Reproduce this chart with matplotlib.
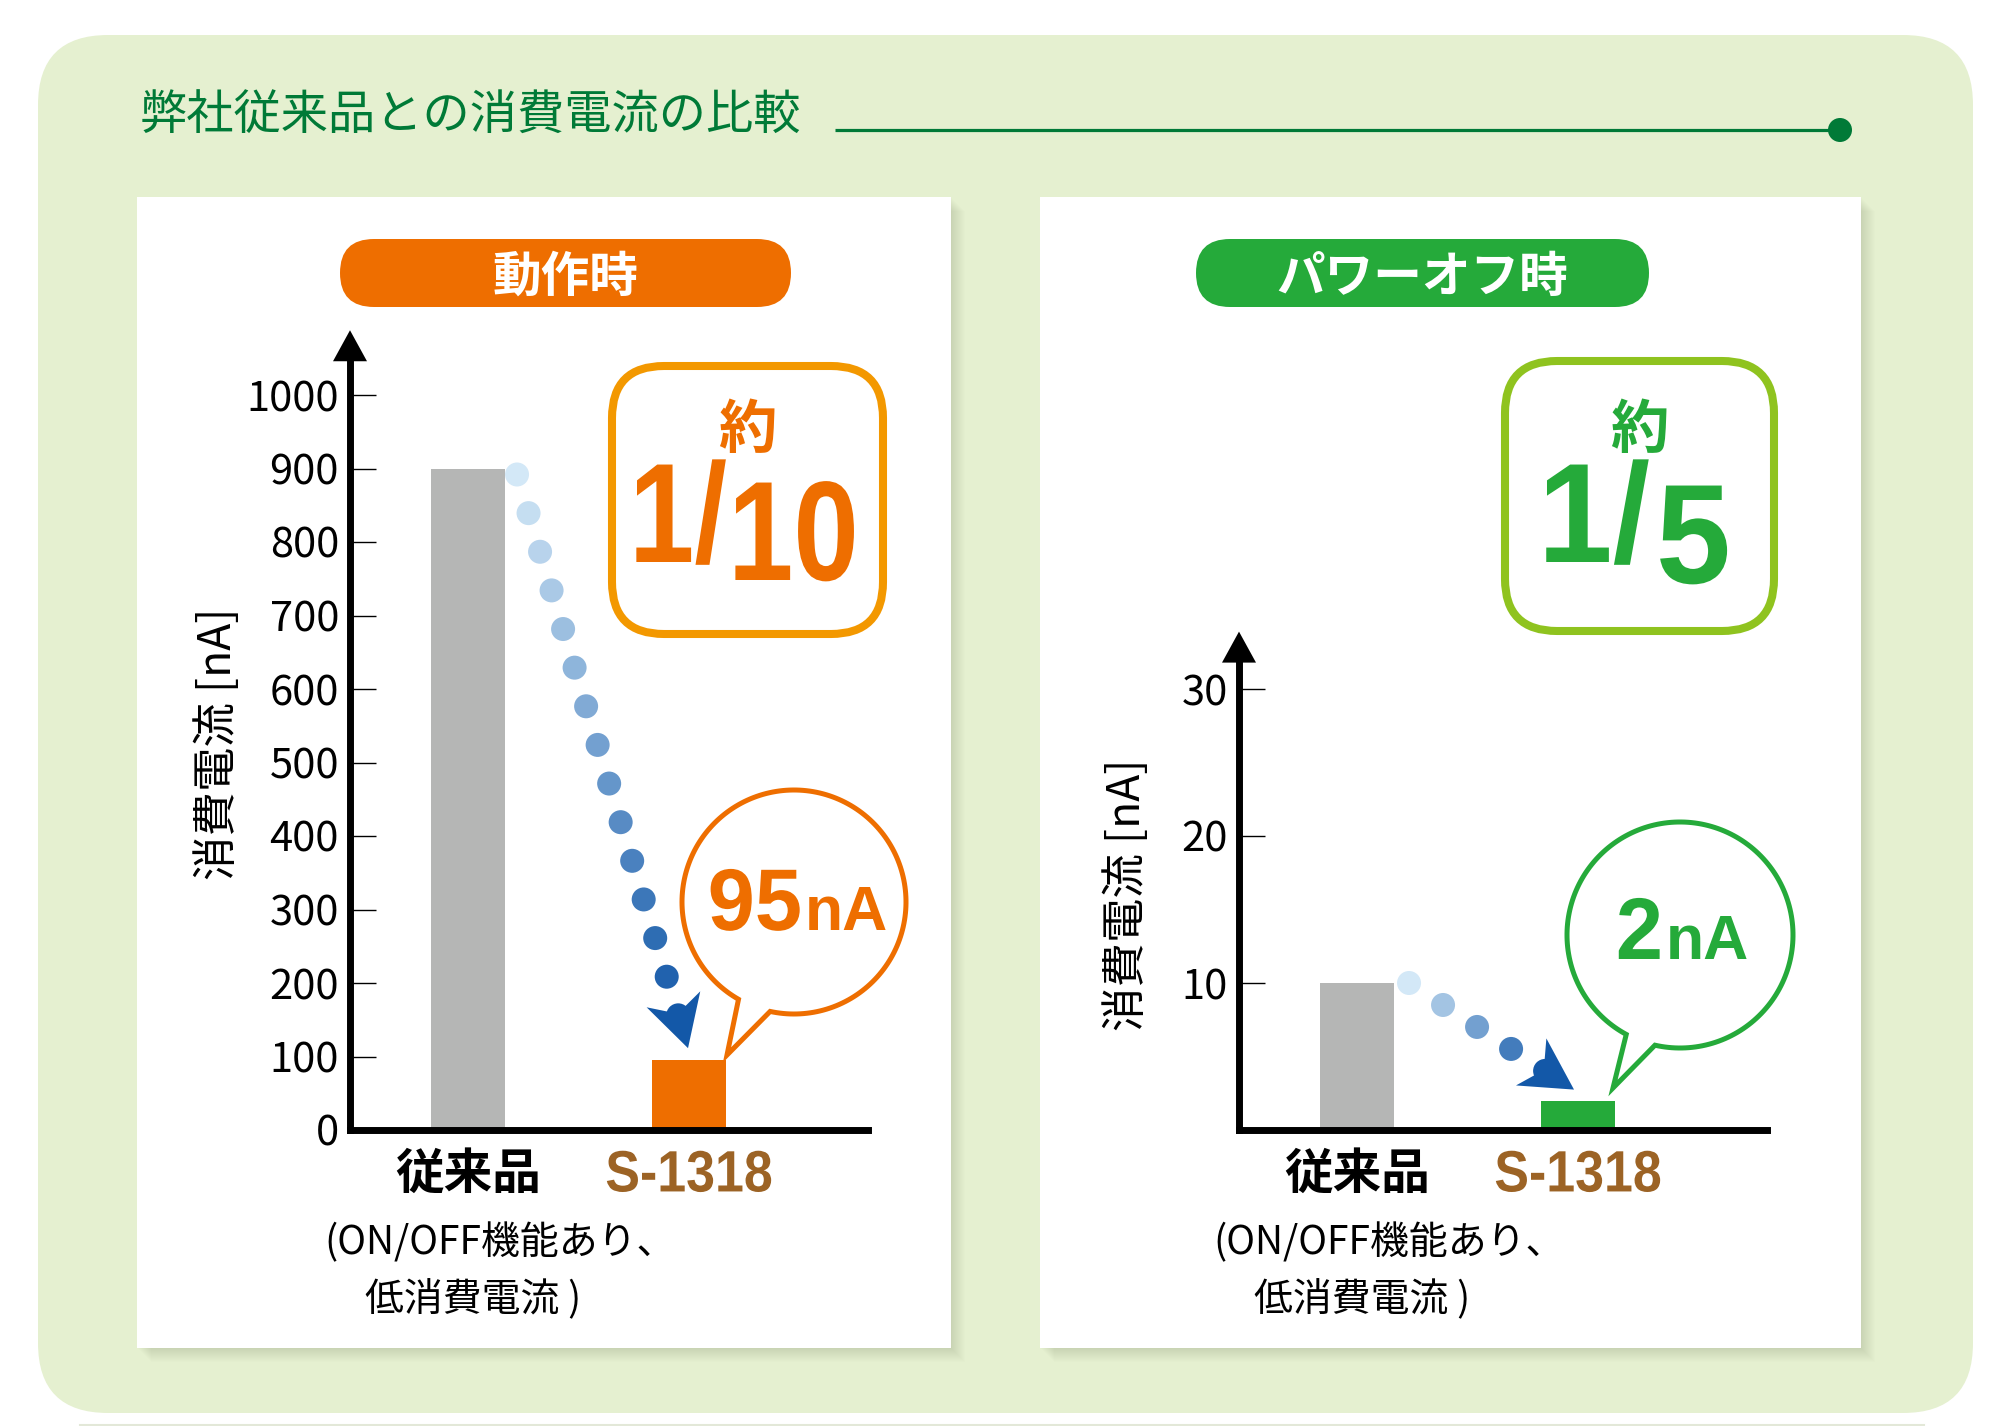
import numpy as np
import matplotlib.pyplot as plt
from matplotlib.patches import FancyBboxPatch, Rectangle, Circle, Polygon
from matplotlib.patheffects import AbstractPathEffect
from matplotlib.transforms import IdentityTransform, Affine2D
from matplotlib.colors import to_rgb

plt.rcParams['font.family'] = ['Noto Sans CJK JP', 'DejaVu Sans']
LATIN = ['Liberation Sans', 'DejaVu Sans']

W, H = 2000, 1426

# ---- data ----
title = '弊社従来品との消費電流の比較'
categories = ['従来品', 'S-1318']
note_lines = ['(ON/OFF機能あり、', '低消費電流 )']
ylabel = '消費電流 [nA]'

active_title = '動作時'
active_vals = [900, 95]          # nA
active_ticks = [0, 100, 200, 300, 400, 500, 600, 700, 800, 900, 1000]
active_ratio = ('1/', '10')
active_value_txt = ('95', 'nA')

off_title = 'パワーオフ時'
off_vals = [10, 2]               # nA
off_ticks = [10, 20, 30]
off_ratio = ('1/', '5')
off_value_txt = ('2', 'nA')

# ---- colours ----
bg_green = '#E5F0D0'
dk_green = '#007A37'
orange = '#EE6E00'
orange_lt = '#F39800'
green = '#25AA3A'
green_lt = '#8FC31F'
gray = '#B5B6B5'
brown = '#9C6325'
dot_light = '#D3E8F7'
dot_dark = '#1358A8'


class Squeeze(AbstractPathEffect):
    """draw text narrower (condensed look) around display x0"""
    def __init__(self, sx, x0):
        super().__init__()
        self._sx = sx
        self._x0 = x0

    def draw_path(self, renderer, gc, tpath, affine, rgbFace=None):
        t = affine + Affine2D().translate(-self._x0, 0).scale(self._sx, 1).translate(self._x0, 0)
        renderer.draw_path(gc, tpath, t, rgbFace)


fig = plt.figure(figsize=(W / 100, H / 100), dpi=100)
fig.patch.set_facecolor('white')

# background layer in pixel coordinates (y down)
bg = fig.add_axes([0, 0, 1, 1], zorder=0)
bg.set_xlim(0, W)
bg.set_ylim(H, 0)
bg.axis('off')


def squeezed(x, y, s, sx, **kw):
    x0 = bg.transData.transform((x, 0))[0]
    bg.text(x, y, s, path_effects=[Squeeze(sx, x0)], **kw)


bg.add_patch(FancyBboxPatch((38, 35), 1935, 1378,
                            boxstyle='round,pad=0,rounding_size=70',
                            fc=bg_green, ec='none'))
bg.plot([80, 1924], [1425, 1425], color='#E3E8D8', lw=1.5)
bg.text(140, 117, title, fontsize=34, color=dk_green, ha='left', va='center')
bg.plot([835, 1840], [130, 130], color=dk_green, lw=2.3, solid_capstyle='butt')
bg.add_patch(Circle((1840, 130), 12, fc=dk_green, ec='none'))

# white panels with soft shadow
for x0, x1 in [(137, 951), (1040, 1861)]:
    for k in range(1, 15):
        bg.add_patch(Rectangle((x0 + k, 197 + k), x1 - x0, 1151,
                               fc='#8A9A78', ec='none', alpha=0.02))
    bg.add_patch(Rectangle((x0, 197), x1 - x0, 1151, fc='white', ec='none'))


def pill(x0, x1, text, color):
    bg.add_patch(FancyBboxPatch((x0, 239), x1 - x0, 68,
                                boxstyle='round,pad=0,rounding_size=34',
                                fc=color, ec='none'))
    bg.text((x0 + x1) / 2, 277, text, fontsize=35, weight='bold',
            color='white', ha='center', va='center')


pill(340, 791, active_title, orange)
pill(1196, 1649, off_title, green)


def ratio_box(x0, y0, x1, y1, edge, txt_color, ratio, cx, slash_x, gap,
              base1, base2, sx):
    bg.add_patch(FancyBboxPatch((x0 + 4, y0 + 4), x1 - x0 - 8, y1 - y0 - 8,
                                boxstyle='round,pad=0,rounding_size=52',
                                fc='white', ec=edge, lw=5.8))
    bg.text(cx, 431, '約', fontsize=42, weight='bold', color=txt_color,
            ha='center', va='center')
    squeezed(slash_x, base1, ratio[0], sx, fontsize=102, weight='bold',
             color=txt_color, ha='right', va='baseline', family=LATIN)
    squeezed(slash_x + gap, base2, ratio[1], sx, fontsize=102, weight='bold',
             color=txt_color, ha='left', va='baseline', family=LATIN)


ratio_box(608, 362, 887, 638, orange_lt, orange, active_ratio, 747,
          727, 1, 562, 580, 0.83)
ratio_box(1501, 357, 1778, 635, green_lt, green, off_ratio, 1639,
          1650, 6, 562, 583, 0.95)


def bubble(cx, cy, r, a1, a2, tip, color, txt, split_x, base):
    ang = np.radians(np.linspace(a2, a1 - 360, 200))
    pts = np.column_stack([cx + r * np.cos(ang), cy + r * np.sin(ang)])
    pts = np.vstack([pts, tip])
    bg.add_patch(Polygon(pts, closed=True, fc='white', ec=color, lw=3.6,
                         joinstyle='miter'))
    squeezed(split_x, base, txt[0], 0.97, fontsize=63, weight='bold',
             color=color, ha='right', va='baseline', family=LATIN)
    bg.text(split_x + 3, base, txt[1], fontsize=45, weight='bold', color=color,
            ha='left', va='baseline', family=LATIN)


bubble(794, 902, 112, 119.7, 102.3, (727, 1055), orange, active_value_txt, 802, 930)
bubble(1680, 935, 113, 118.4, 102.8, (1613, 1088), green, off_value_txt, 1663, 959)


def chart(x_left, x_right, ppu, ymax, vals, ticks, colors, label_x,
          start_off, tip_off, n_dots):
    top = 1130 - ymax * ppu
    ax = fig.add_axes([x_left / W, 1 - 1130 / H, (x_right - x_left) / W,
                       (1130 - top) / H], zorder=2)
    ax.patch.set_alpha(0)
    span = (x_right - x_left) / 221.0
    ax.set_xlim(-0.534, -0.534 + span)
    ax.set_ylim(0, ymax)
    width = 0.335
    ax.bar(range(len(vals)), vals, width=width, color=colors, zorder=2)

    for s in ['top', 'right']:
        ax.spines[s].set_visible(False)
    for s in ['left', 'bottom']:
        ax.spines[s].set_linewidth(5)
        ax.spines[s].set_color('black')

    ax.set_yticks(ticks)
    ax.tick_params(axis='y', direction='in', length=19, width=1, pad=8,
                   labelsize=30)
    ax.set_xticks(range(len(categories)), labels=categories)
    ax.tick_params(axis='x', length=0, pad=14)
    labs = ax.get_xticklabels()
    labs[0].set_fontsize(35)
    labs[0].set_fontweight('bold')
    labs[1].set_fontsize(42)
    labs[1].set_fontweight('bold')
    labs[1].set_color(brown)
    labs[1].set_fontfamily(LATIN)
    labs[1].set_path_effects([Squeeze(0.89, ax.transData.transform((1, 0))[0])])

    ax.set_ylabel(ylabel, fontsize=32, va='center')
    ax.yaxis.set_label_coords(label_x, 0.5)

    # note under the conventional product
    ax.annotate(note_lines[0], xy=(-0.65, 0), xycoords=('data', 'axes fraction'),
                xytext=(0, -67), textcoords='offset points', fontsize=28,
                ha='left', va='top', annotation_clip=False)
    ax.annotate(note_lines[1], xy=(-0.465, 0), xycoords=('data', 'axes fraction'),
                xytext=(0, -108), textcoords='offset points', fontsize=28,
                ha='left', va='top', annotation_clip=False)

    # arrow head on the y axis
    x0, y0 = ax.transAxes.transform((0, 1))
    ax.add_patch(Polygon([[x0, y0 + 28], [x0 - 17, y0 - 3], [x0 + 17, y0 - 3]],
                         closed=True, transform=IdentityTransform(),
                         fc='black', ec='none', clip_on=False))

    # dotted flow from old to new bar
    t = ax.transData
    p0 = t.transform((width / 2, vals[0])) + np.array(start_off)
    tip = t.transform((1, vals[1])) + np.array(tip_off)
    step = (tip - p0) / (n_dots - 1 + 1.85)
    c0, c1 = np.array(to_rgb(dot_light)), np.array(to_rgb(dot_dark))
    for i in range(n_dots + 1):
        c = c0 + (c1 - c0) * i / n_dots
        ax.add_patch(Circle(p0 + step * i, 12, transform=IdentityTransform(),
                            fc=c, ec='none', clip_on=False, zorder=3))
    d = step / np.hypot(*step)
    nrm = np.array([-d[1], d[0]])
    head = [tip, tip - 51 * d + 28 * nrm, tip - 36 * d, tip - 51 * d - 28 * nrm]
    ax.add_patch(Polygon(head, closed=True, transform=IdentityTransform(),
                         fc=dot_dark, ec='none', clip_on=False, zorder=3))
    return ax


chart(350, 868, 0.735, 1050, active_vals, active_ticks, [gray, orange],
      -0.255, (12, -6), (-1, 12), 14)
chart(1239, 1767, 14.7, 32, off_vals, off_ticks, [gray, green],
      -0.212, (15, 0), (-4, 11), 4)

fig.savefig('out.png', dpi=100, facecolor='white')
